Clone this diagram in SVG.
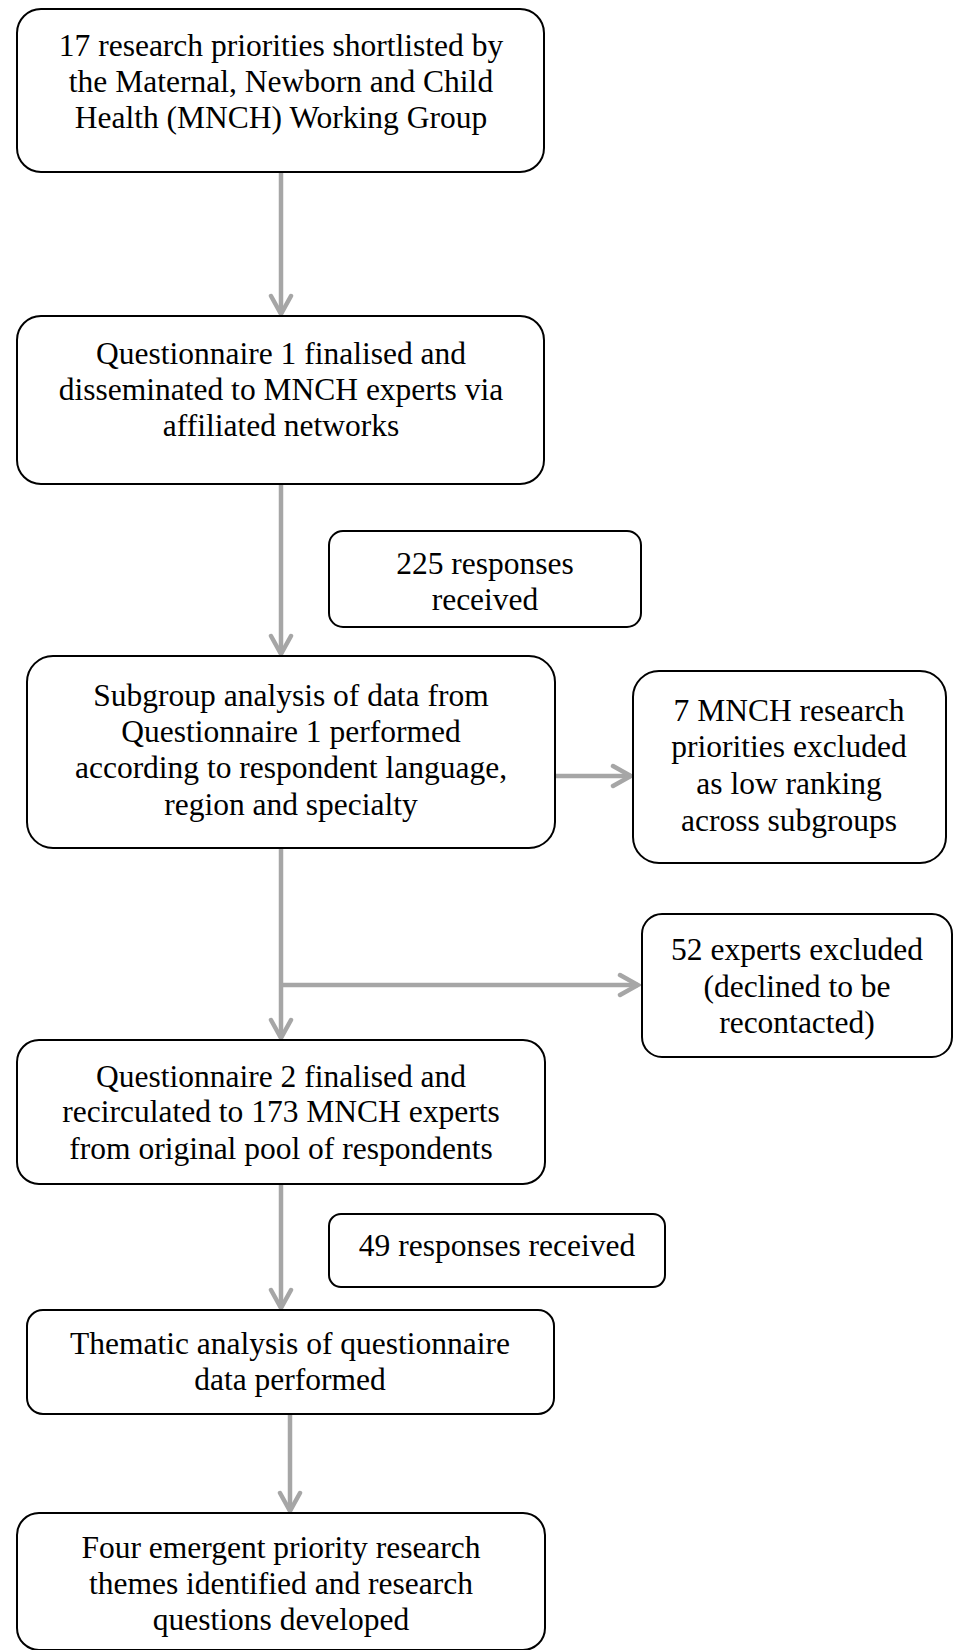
<svg xmlns="http://www.w3.org/2000/svg" width="953" height="1650" viewBox="0 0 953 1650">
<style>
.box{fill:#fff;stroke:#000;stroke-width:2}
.t{font-family:"Liberation Serif","Times New Roman",serif;font-size:31.5px;fill:#000;text-anchor:middle}
.c{fill:none;stroke:#a6a6a6;stroke-width:4.5}
</style>
<defs>
<marker id="ah" markerUnits="userSpaceOnUse" viewBox="-22 -14 26 28" markerWidth="26" markerHeight="28" refX="0" refY="0" orient="auto">
<path d="M-18,-10 L0,0 L-18,10" fill="none" stroke="#a6a6a6" stroke-width="4.5" stroke-linecap="round" stroke-linejoin="miter"/>
</marker>
</defs>
<g id="connectors">
<line class="c" x1="281" y1="173" x2="281" y2="314" marker-end="url(#ah)"/>
<line class="c" x1="281" y1="484" x2="281" y2="654" marker-end="url(#ah)"/>
<line class="c" x1="555" y1="776" x2="631" y2="776" marker-end="url(#ah)"/>
<line class="c" x1="281" y1="848" x2="281" y2="1038" marker-end="url(#ah)"/>
<line class="c" x1="281" y1="985" x2="638" y2="985" marker-end="url(#ah)"/>
<line class="c" x1="281" y1="1184" x2="281" y2="1308" marker-end="url(#ah)"/>
<line class="c" x1="290" y1="1414" x2="290" y2="1511" marker-end="url(#ah)"/>
</g>
<g id="n1">
<rect class="box" x="17" y="9" width="527" height="163" rx="24"/>
<text class="t" x="281" y="56">17 research priorities shortlisted by</text>
<text class="t" x="281" y="92">the Maternal, Newborn and Child</text>
<text class="t" x="281" y="128">Health (MNCH) Working Group</text>
</g>
<g id="n2">
<rect class="box" x="17" y="316" width="527" height="168" rx="24"/>
<text class="t" x="281" y="364">Questionnaire 1 finalised and</text>
<text class="t" x="281" y="400">disseminated to MNCH experts via</text>
<text class="t" x="281" y="436">affiliated networks</text>
</g>
<g id="n3">
<rect class="box" x="329" y="531" width="312" height="96" rx="14"/>
<text class="t" x="485" y="574">225 responses</text>
<text class="t" x="485" y="610">received</text>
</g>
<g id="n4">
<rect class="box" x="27" y="656" width="528" height="192" rx="26"/>
<text class="t" x="291" y="706">Subgroup analysis of data from</text>
<text class="t" x="291" y="742">Questionnaire 1 performed</text>
<text class="t" x="291" y="778">according to respondent language,</text>
<text class="t" x="291" y="815">region and specialty</text>
</g>
<g id="n5">
<rect class="box" x="633" y="671" width="313" height="192" rx="26"/>
<text class="t" x="789" y="721">7 MNCH research</text>
<text class="t" x="789" y="757">priorities excluded</text>
<text class="t" x="789" y="794">as low ranking</text>
<text class="t" x="789" y="831">across subgroups</text>
</g>
<g id="n6">
<rect class="box" x="642" y="914" width="310" height="143" rx="20"/>
<text class="t" x="797" y="960">52 experts excluded</text>
<text class="t" x="797" y="997">(declined to be</text>
<text class="t" x="797" y="1033">recontacted)</text>
</g>
<g id="n7">
<rect class="box" x="17" y="1040" width="528" height="144" rx="22"/>
<text class="t" x="281" y="1087">Questionnaire 2 finalised and</text>
<text class="t" x="281" y="1122">recirculated to 173 MNCH experts</text>
<text class="t" x="281" y="1159">from original pool of respondents</text>
</g>
<g id="n8">
<rect class="box" x="329" y="1214" width="336" height="73" rx="12"/>
<text class="t" x="497" y="1256">49 responses received</text>
</g>
<g id="n9">
<rect class="box" x="27" y="1310" width="527" height="104" rx="16"/>
<text class="t" x="290" y="1354">Thematic analysis of questionnaire</text>
<text class="t" x="290" y="1390">data performed</text>
</g>
<g id="n10">
<rect class="box" x="17" y="1513" width="528" height="137" rx="22"/>
<text class="t" x="281" y="1558">Four emergent priority research</text>
<text class="t" x="281" y="1594">themes identified and research</text>
<text class="t" x="281" y="1630">questions developed</text>
</g>
</svg>
